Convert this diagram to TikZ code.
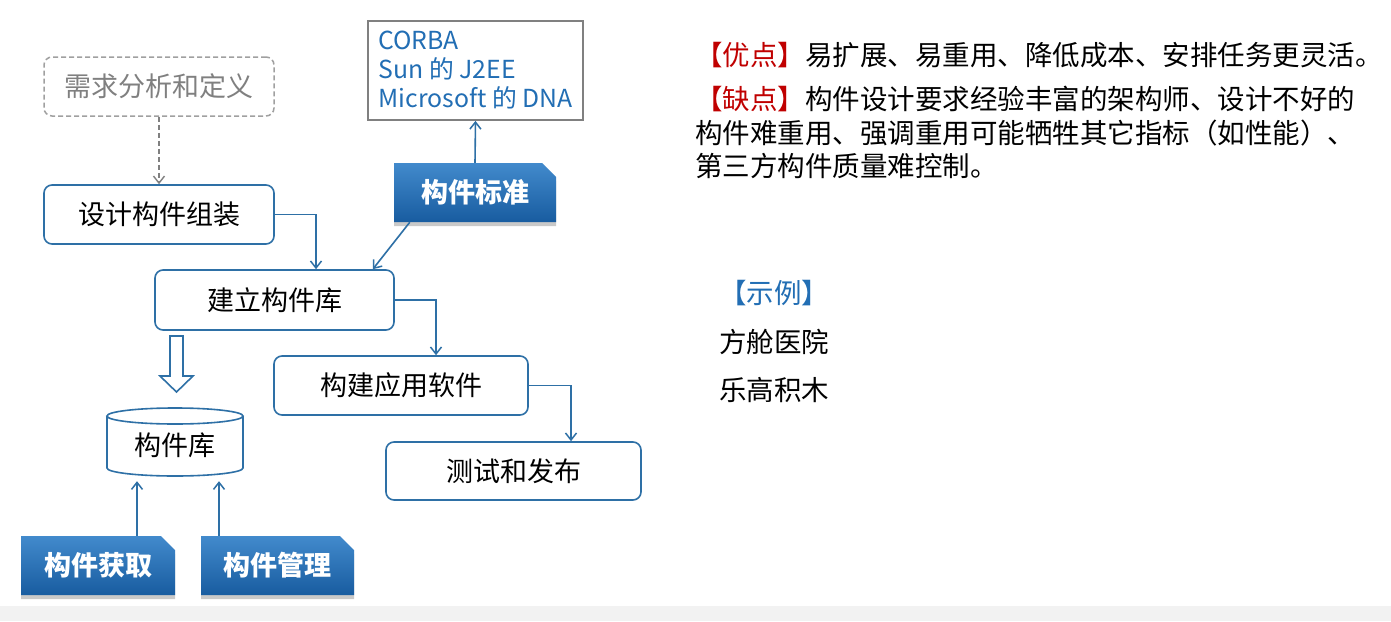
\documentclass[tikz,border=0pt]{standalone}
\usepackage{fontspec}
\setmainfont{Noto Sans CJK SC}
\usetikzlibrary{arrows.meta,shapes.misc,shadows}
\definecolor{lineblue}{RGB}{46,112,166}
\definecolor{topblue}{RGB}{66,138,204}
\definecolor{botblue}{RGB}{24,92,160}
\definecolor{txtblue}{RGB}{34,110,180}
\definecolor{prored}{RGB}{192,0,0}
\definecolor{dashgray}{RGB}{160,160,160}
\definecolor{boxgray}{RGB}{128,128,128}
\begin{document}
\begin{tikzpicture}[x=1pt,y=-1pt,
  box/.style={draw=lineblue,line width=1.6pt,rounded corners=8pt,fill=white,inner sep=0pt,
    font=\fontsize{27}{32}\selectfont},
  dashbox/.style={draw=dashgray,dashed,dash pattern=on 5pt off 3pt,line width=1.5pt,rounded corners=8pt,inner sep=0pt,
    text=boxgray,font=\fontsize{27}{32}\selectfont},
  bluebox/.style={chamfered rectangle,chamfered rectangle corners=north east,
    chamfered rectangle xsep=7pt,chamfered rectangle ysep=7pt,
    top color=topblue,bottom color=botblue,draw=none,text=white,inner sep=0pt,
    font=\fontsize{27}{32}\selectfont\bfseries,
    drop shadow={shadow xshift=0pt,shadow yshift=-4pt,opacity=0.35,fill=black!60}},
  conn/.style={draw=lineblue,line width=1.6pt,-{Straight Barb[length=7pt,width=11pt,line width=1.5pt]}},
  dconn/.style={draw=boxgray,line width=1.4pt,dashed,dash pattern=on 5pt off 3pt,-{Straight Barb[length=7pt,width=11pt,line width=1.4pt]}},
  rtext/.style={inner sep=0pt,font=\fontsize{27.5}{33.5}\selectfont,anchor=west}
]
\useasboundingbox (0,0) rectangle (1391,621);
\fill[white] (0,0) rectangle (1391,621);
\fill[black!5] (0,606) rectangle (1391,621);

% boxes
\node[dashbox,minimum width=230,minimum height=59] (req) at (159,86.5) {需求分析和定义};
\node[box,minimum width=230,minimum height=59] (design) at (159,214.5) {设计构件组装};
\node[box,minimum width=239,minimum height=60] (build) at (274.5,300) {建立构件库};
\node[box,minimum width=254,minimum height=59] (app) at (401,385.5) {构建应用软件};
\node[box,minimum width=255,minimum height=58] (test) at (513.5,471) {测试和发布};
\node[draw=boxgray,line width=1.8pt,fill=white,minimum width=215,minimum height=99,inner sep=0pt,
  align=left,text=txtblue,font=\fontsize{24.8}{29}\selectfont] (corba) at (475.5,70.5)
  {CORBA\\Sun 的 J2EE\\Microsoft 的 DNA};
\node[bluebox,minimum width=162,minimum height=59] (std) at (475,192.5) {构件标准};
\node[bluebox,minimum width=154,minimum height=59] (acq) at (98,565.5) {构件获取};
\node[bluebox,minimum width=153,minimum height=59] (mgmt) at (277.5,565.5) {构件管理};

% cylinder
\draw[lineblue,line width=1.6pt,fill=white] (107,416) -- (107,468)
  arc[start angle=180,end angle=0,x radius=68,y radius=8] -- (243,416);
\draw[lineblue,line width=1.6pt,fill=white] (175,416) ellipse[x radius=68,y radius=8];
\node[inner sep=0pt,minimum width=136,minimum height=68,font=\fontsize{27}{32}\selectfont] (lib) at (175,445) {构件库};

% hollow block arrow
\draw[lineblue,line width=1.6pt,fill=white,line join=miter]
  (170,336) -- (183,336) -- (183,376) -- (193,376) -- (176.5,392) -- (160,376) -- (170,376) -- cycle;

% connectors
\draw[dconn] (req.south) -- (design.north);
\draw[conn] (design.east) -| ([xshift=41.5pt]build.north);
\draw[conn] (std.north) -- (corba.south);
\draw[conn] ([xshift=16pt]std.south west) -- ([xshift=-22pt]build.north east);
\draw[conn] (build.east) -| ([xshift=35pt]app.north);
\draw[conn] (app.east) -| ([xshift=57.5pt]test.north);
\draw[conn] ([xshift=39pt]acq.north) -- ([xshift=-38pt,yshift=-2pt]lib.south);
\draw[conn] ([xshift=-58.5pt]mgmt.north) -- ([xshift=44pt,yshift=-2pt]lib.south);

% right texts
\node[rtext] (pro) at (695,55) {\textcolor{prored}{【优点】}易扩展、易重用、降低成本、安排任务更灵活。};
\node[rtext,anchor=north west,align=left] (con) at (695,86)
  {\textcolor{prored}{【缺点】}构件设计要求经验丰富的架构师、设计不好的\\
   构件难重用、强调重用可能牺牲其它指标（如性能）、\\
   第三方构件质量难控制。};
\node[rtext,text=txtblue] (ex) at (719,293) {【示例】};
\node[rtext] (ex1) at (719,342) {方舱医院};
\node[rtext] (ex2) at (719,390) {乐高积木};
\end{tikzpicture}
\end{document}
